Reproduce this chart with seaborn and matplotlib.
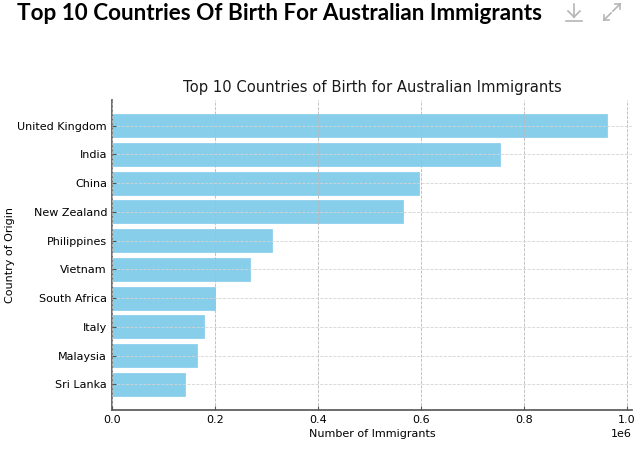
import numpy as np
import pandas as pd
import matplotlib
matplotlib.use('Agg')
import matplotlib.pyplot as plt
from matplotlib.lines import Line2D
import seaborn as sns

# Data
countries = ['United Kingdom', 'India', 'China', 'New Zealand', 'Philippines',
             'Vietnam', 'South Africa', 'Italy', 'Malaysia', 'Sri Lanka']
immigrants = [962000, 753000, 596000, 565000, 311000,
              268000, 200000, 179000, 165000, 142000]

page_title = 'Top 10 Countries Of Birth For Australian Immigrants'
chart_title = 'Top 10 Countries of Birth for Australian Immigrants'

df = pd.DataFrame({'Country': countries, 'Immigrants': immigrants})

fig = plt.figure(figsize=(6.43, 4.61), dpi=100)
ax = fig.add_axes([0.174, 0.111, 0.809, 0.672])

sns.barplot(data=df, x='Immigrants', y='Country', orient='h',
            color='skyblue', saturation=1, width=0.8, ax=ax,
            edgecolor='#8fd0ee', linewidth=0.6)

n = len(countries)
ax.set_ylim(n - 0.5 + 0.39, -0.5 - 0.39)
ax.set_xlim(0, max(immigrants) * 1.05)

ax.set_title(chart_title, fontsize=10.6, color='#1a1a1a', pad=6)
ax.set_xlabel('Number of Immigrants', fontsize=8, labelpad=3)
ax.set_ylabel('Country of Origin', fontsize=8, labelpad=1.5)
ax.tick_params(axis='both', labelsize=8, direction='in', length=3,
               color='#555555', width=0.8)

ax.xaxis.grid(True, linestyle='--', color='#b8b8b8', linewidth=0.6)
ax.yaxis.grid(True, linestyle='--', color='#d4d4d4', linewidth=0.6)
ax.set_axisbelow(False)

for side in ['top', 'right']:
    ax.spines[side].set_visible(False)
for side in ['left', 'bottom']:
    ax.spines[side].set_color('#606060')
    ax.spines[side].set_linewidth(1.3)
ax.xaxis.get_offset_text().set_fontsize(8)

# page heading above the chart
fig.text(17 / 643, 1 - 13 / 461, page_title, fontsize=16.2, fontweight='bold',
         family='Lato', va='center', ha='left', color='black')

# little download / expand icons
W, H = 643, 461
def px_line(x0, y0, x1, y1):
    fig.add_artist(Line2D([x0 / W, x1 / W], [1 - y0 / H, 1 - y1 / H],
                          transform=fig.transFigure, color='#b5b5b5', lw=1.2))

px_line(574, 4, 574, 17)
px_line(568, 11, 574, 17)
px_line(580, 11, 574, 17)
px_line(566, 21, 582, 21)

px_line(613, 11, 620, 4)
px_line(615, 4, 620, 4)
px_line(620, 4, 620, 9)
px_line(611, 13, 604, 20)
px_line(604, 15, 604, 20)
px_line(604, 20, 609, 20)

fig.savefig('out.png', dpi=100, facecolor='white')
